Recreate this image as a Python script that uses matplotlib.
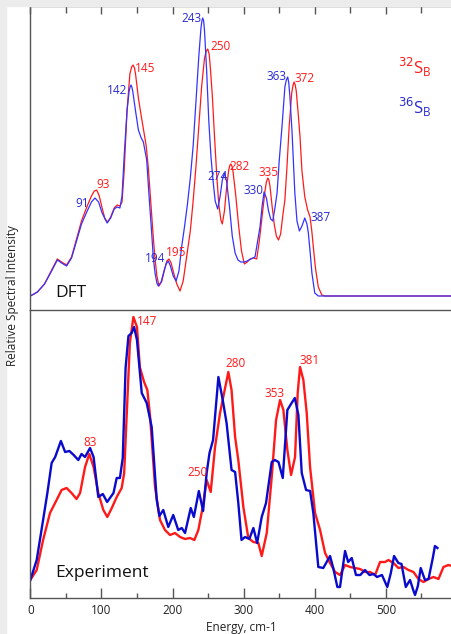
import matplotlib
matplotlib.use("Agg")
from matplotlib import pyplot as plt
from matplotlib.patches import Rectangle
from matplotlib.ticker import MultipleLocator

# Spectres DFT (32S en rouge, 36S en bleu): énergie (cm-1), intensité relative
dft_e_32 = [0, 10, 20, 30, 38, 44, 51, 58, 65, 72, 80, 86, 90, 93.4, 97, 101, 105, 109,
            113, 118, 122, 126, 129, 132, 136, 140, 142.5, 144.5, 146.5, 148, 152, 156,
            160, 163, 166, 169, 172, 175, 178, 181, 185, 189, 192, 195, 198, 202, 206,
            210.5, 215, 220, 225, 229, 233, 237, 241, 245, 247.5, 249.5, 251.5, 253, 256,
            259, 262, 265, 268, 270, 273, 276, 279, 280.5, 282, 283.5, 285, 289, 293, 297,
            301, 305, 309, 314, 318.4, 322, 325.4, 330, 332, 334, 335.5, 337, 340, 343,
            346, 349, 352, 355, 358, 361, 364, 367.6, 369.5, 371, 372.5, 374, 377, 379.3,
            382, 386, 390, 393.4, 396, 398, 401, 405, 410, 414, 593]
dft_i_32 = [0, 4, 12, 26, 37, 34, 31, 39, 57, 75, 90, 100, 105, 106, 100, 88, 77, 74,
            79, 88, 91, 90, 94, 125, 185, 222, 229, 231, 228, 222, 198, 180,
            163, 150, 128, 98, 68, 40, 20, 10, 15, 27, 35, 37, 33, 22, 12,
            5, 15, 40, 65, 95, 130, 170, 210, 238, 245, 247, 242, 230, 200,
            160, 123, 92, 76, 72, 85, 108, 126, 130.5, 132, 130, 125, 100, 70, 45,
            32, 34, 37, 38, 37, 55, 76, 105, 114, 118, 116, 110, 90, 72,
            60, 56, 62, 80, 96, 130, 169, 203, 211, 214, 211, 205, 180, 159,
            125, 99, 86, 79, 64, 49, 28, 9, 1, 0, 0]

dft_e_36 = [0, 10, 20, 30, 38, 44, 51, 58, 65, 72, 80, 86, 91, 96, 101, 108, 113, 118,
            122, 126, 129, 132, 136, 139, 140.5, 141.6, 142.8, 144, 148, 152, 156, 159,
            163.7, 167, 170.7, 173, 175.4, 178, 180, 184, 188, 191, 194, 197, 201, 205,
            209, 213, 217, 221, 225, 229, 233, 237, 240, 241.3, 242.5, 243.8, 245, 248,
            251, 254, 257, 260, 263.5, 267, 270, 273, 276, 280, 284, 288, 292, 296, 301,
            305, 310, 316, 319, 323, 326, 328.7, 332, 335, 338, 341, 344, 347, 350, 354,
            358, 360, 362, 363.5, 365, 368, 372, 375, 378.4, 382, 386, 389, 391, 394, 396,
            400, 405, 593]
dft_i_36 = [0, 4, 12, 25, 36, 33, 30, 38, 55, 72, 85, 94, 98, 94, 83, 73, 78, 87,
            89, 88, 100, 140, 185, 205, 209.5, 211, 209, 205, 185, 166, 158, 154,
            136, 100, 63, 38, 23, 13, 10, 14, 25, 32, 35, 30, 20, 15,
            25, 50, 70, 92, 118, 150, 195, 240, 268, 275, 278, 275, 265, 225,
            175, 140, 115, 95, 87, 100, 116, 123, 115, 90, 60, 43, 36, 34, 34,
            35, 37, 39, 52, 69, 90, 104, 98, 85, 77, 75, 88, 103, 135, 170,
            209, 216, 219, 213, 200, 165, 103, 75, 65, 70, 78, 72, 63, 40, 23,
            3, 0, 0]

# Spectres expérimentaux
exp_e_32 = [0, 9, 18, 27.7, 37, 44, 51, 58, 65, 70, 77, 83, 89, 95.6, 102.7, 108.3,
            114.6, 121.5, 128.5, 132, 136, 140, 145, 150, 154, 160, 164.6, 168.4,
            175.4, 182.4, 189.4, 196.5, 203.5, 210.6, 217.6, 224.6, 230.7, 236.3,
            242.5, 248, 253.7, 259.8, 266.8, 272.5, 278.5, 283, 288, 292.5, 299.6,
            306.6, 313.7, 320.7, 325.4, 332.5, 339.5, 345.6, 351.2, 355.9, 361.5,
            366.7, 372.3, 376, 379.3, 384, 388.7, 393.4, 400.4, 407.5, 414.5, 421.5,
            428.6, 435.6, 442.6, 449.7, 456.7, 463.8, 470.8, 477.8, 484.9, 491.8,
            498.9, 503.6, 510.6, 517.7, 524.7, 531.8, 538.8, 545.8, 552.9, 560, 567,
            574, 581, 588, 593]
exp_i_32 = [18, 28, 58, 85, 98, 108, 110, 105, 99, 105, 131, 144, 131, 105, 88, 81,
            90, 101, 110, 125, 190, 255, 281, 271, 231, 216, 208, 182,
            111, 78, 68, 63, 65, 61, 59, 60, 58, 68,
            91, 118, 106, 151, 185, 205, 226, 208, 161, 138, 91,
            60, 56, 55, 42, 65, 121, 178, 198, 188, 148,
            123, 141, 205, 231, 218, 185, 131, 85, 68, 45, 35,
            26, 23, 33, 31, 30, 29, 26, 26, 23, 36,
            36, 38, 35, 30, 31, 28, 26, 19, 16, 19, 21,
            19, 31, 33, 32]

exp_e_36 = [0, 9, 18, 24, 30, 35, 43, 49, 55, 61, 67.5, 72, 77, 84, 89, 95.6, 102, 108,
            117, 121.5, 126, 130, 134, 138, 142.5, 146, 150, 156.7, 163.7, 170.7, 177.8,
            181.5, 187, 194, 201, 208, 213, 217.6, 225.6, 230, 237, 243, 248, 252, 257,
            264.5, 270.6, 276, 283, 288, 292.5, 297, 302, 308, 313.7, 319, 325.4,
            331.5, 339.5, 344, 349, 355, 361.5, 367.5, 372, 377, 381.7, 387.8, 393.5,
            398, 405, 412, 421.5, 426, 431.8, 435.5, 442.6, 447, 452, 458, 464, 470.6,
            477, 482.7, 487.5, 494.5, 502, 507, 511.5, 517.6, 522, 528, 534, 538, 541,
            545, 549, 555, 560, 566, 569, 572.5]
exp_i_36 = [18, 38, 78, 105, 135, 141, 157, 146, 147, 143, 138, 144, 141, 150, 141, 101,
            104, 96, 105, 120, 120, 140, 230, 262, 265, 271, 258, 205, 195, 171, 98,
            82, 88, 71, 83, 68, 70, 65, 90, 81, 107, 87, 125, 145, 158,
            221, 198, 175, 128, 126, 95, 58, 61, 59, 70, 55, 81,
            95, 136, 138, 136, 120, 188, 195, 200, 183, 125, 108, 107,
            85, 31, 30, 42, 30, 11, 11, 47, 36, 40, 23, 23, 28,
            23, 24, 21, 23, 11, 25, 42, 35, 34, 11, 18, 9, 3,
            12, 30, 18, 19, 40, 52, 50]

# Étiquettes des pics: (texte, énergie, intensité, couleur)
dft_labels = [("243", 226, 277, "b"), ("250", 267, 249, "r"), ("145", 162, 228, "r"),
              ("142", 122, 205, "b"), ("93", 102, 111, "r"), ("91", 73, 93, "b"),
              ("194", 175, 38, "b"), ("195", 205, 44, "r"), ("274", 263.5, 120, "b"),
              ("282", 294, 129, "r"), ("330", 313.6, 105, "b"), ("335", 335, 124, "r"),
              ("363", 346, 220, "b"), ("372", 385, 218, "r"), ("387", 407.5, 79, "b")]
exp_labels = [("147", 163.7, 277, "r"), ("83", 84.4, 156, "r"), ("280", 289, 235, "r"),
              ("250", 235.4, 126, "r"), ("353", 344, 205, "r"), ("381", 392.4, 238, "r")]

ROUGE = "#ff1a1a"
BLEU_DFT = "#3333ff"
BLEU_EXP = "#0a0acc"
TXT_BLEU = "#2a2ad0"
GRIS = "#555555"


def style_axes(ax, top_ticks: bool):
    """Cadre gris, graduations vers l'intérieur"""
    ax.set_xlim(0, 593)
    ax.spines["right"].set_visible(False)
    for side in ("left", "top", "bottom"):
        ax.spines[side].set_color(GRIS)
        ax.spines[side].set_linewidth(1.0)
    ax.set_yticks([])
    ax.xaxis.set_major_locator(MultipleLocator(100))
    ax.xaxis.set_minor_locator(MultipleLocator(50))
    ax.tick_params(axis="x", which="major", direction="in", length=7, color=GRIS,
                   width=1.0, labelsize=8.5, labelcolor="#222222", pad=4)
    ax.tick_params(axis="x", which="minor", direction="in", length=3.5, color=GRIS, width=1.0)
    if top_ticks:
        # Panneau du haut: graduations sur le bord supérieur seulement
        ax.tick_params(axis="x", which="both", top=True, bottom=False, labelbottom=False)
        ax.tick_params(axis="x", which="major", length=6)
        ax.tick_params(axis="x", which="minor", length=5)
        ax.spines["bottom"].set_visible(False)


def trace_figure():
    plt.rcParams["font.family"] = ["Open Sans", "DejaVu Sans"]
    fig = plt.figure(figsize=(4.52, 6.34), dpi=100)
    fig.patch.set_facecolor("white")
    # Bandes grises du bord de la capture
    fig.patches.append(Rectangle((0, 0), 6 / 452, 1, transform=fig.transFigure,
                                 color="#ececec", zorder=0))
    fig.patches.append(Rectangle((0, 1 - 6 / 634), 1, 6 / 634, transform=fig.transFigure,
                                 color="#ececec", zorder=0))

    left = 30.3 / 452
    ax1 = fig.add_axes([left, 1 - 310 / 634, 1 - left, 304 / 634])
    ax2 = fig.add_axes([left, 1 - 598 / 634, 1 - left, 288 / 634])

    # Panneau DFT
    ax1.plot(dft_e_32, dft_i_32, color=ROUGE, lw=0.9, solid_joinstyle="round")
    ax1.plot(dft_e_36, dft_i_36, color=BLEU_DFT, lw=0.9, solid_joinstyle="round")
    ax1.set_ylim(-14, 290)
    style_axes(ax1, top_ticks=True)
    for txt, e, h, c in dft_labels:
        ax1.text(e, h, txt, color=ROUGE if c == "r" else TXT_BLEU, fontsize=8.5,
                 ha="center", va="center")
    ax1.text(35, 3, "DFT", fontsize=12.5, ha="left", va="center", color="#111111")
    ax1.text(541, 229, r"$^{32}\mathregular{S}_\mathregular{B}$", color=ROUGE,
             fontsize=12, ha="center", va="center")
    ax1.text(541, 189, r"$^{36}\mathregular{S}_\mathregular{B}$", color=TXT_BLEU,
             fontsize=12, ha="center", va="center")

    # Panneau expérimental
    ax2.plot(exp_e_32, exp_i_32, color=ROUGE, lw=1.7, solid_joinstyle="round")
    ax2.plot(exp_e_36, exp_i_36, color=BLEU_EXP, lw=1.7, solid_joinstyle="round")
    ax2.set_ylim(0, 288)
    style_axes(ax2, top_ticks=False)
    for txt, e, h, c in exp_labels:
        ax2.text(e, h, txt, color=ROUGE, fontsize=8.5, ha="center", va="center")
    ax2.text(35, 25, "Experiment", fontsize=12.5, ha="left", va="center", color="#111111")
    ax2.set_xlabel("Energy, cm-1", fontsize=8.5, labelpad=3, color="#222222")

    fig.text(12.5 / 452, 1 - 296 / 634, "Relative Spectral Intensity", rotation=90,
             fontsize=8.5, ha="center", va="center", color="#222222")
    fig.savefig("out.png", dpi=100, facecolor=fig.get_facecolor())


if __name__ == "__main__":
    trace_figure()
    print("Done!")
